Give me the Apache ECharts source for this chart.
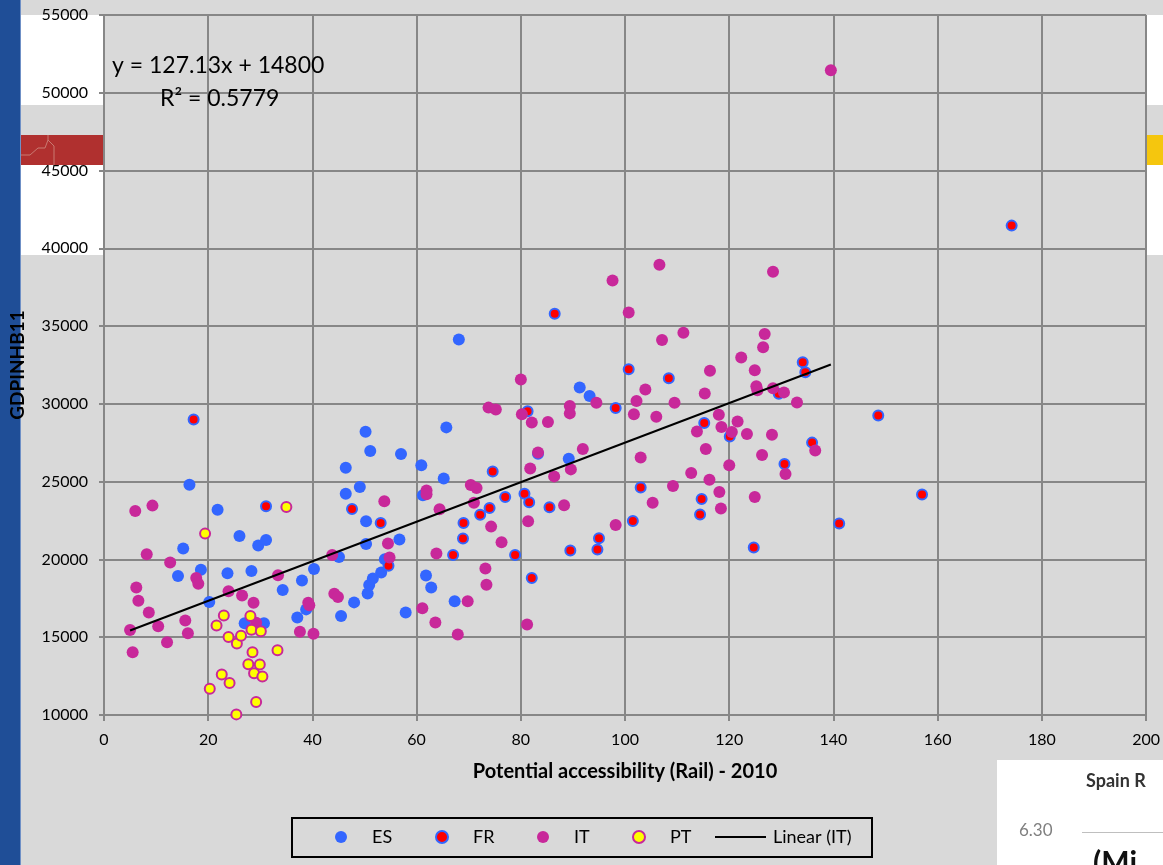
<!DOCTYPE html>
<html>
<head>
<meta charset="utf-8">
<script src="https://cdn.jsdelivr.net/npm/echarts@6/dist/echarts.min.js"></script>
<style>
html,body{margin:0;padding:0;background:#d9d9d9;}
#chart{width:1163px;height:865px;}
</style>
</head>
<body>
<div id="chart"></div>
<script>
// ---- Data (x = Potential accessibility (Rail) 2010, y = GDPINHB11) ----
const esData = [
  [14.2,18940],[15.2,20700],[16.4,24800],[18.6,19330],[20.2,17270],[21.8,23200],[23.7,19120],
  [26.0,21500],[27.0,15900],[28.3,19260],[29.6,20900],[30.7,15900],[31.1,21250],[34.3,18030],
  [37.1,16270],[38.0,18650],[38.8,16790],[40.3,19390],[45.1,20160],[45.5,16360],[46.4,24230],
  [46.4,25900],[48.0,17240],[49.1,24660],[50.2,28210],[50.3,21000],[50.3,22450],[50.6,17810],
  [50.9,18350],[51.1,26970],[51.6,18780],[53.2,19160],[53.9,20020],[56.7,21280],[57.0,26780],
  [57.9,16590],[60.9,26050],[61.2,24120],[61.8,18970],[62.8,18200],[65.2,25200],[65.7,28490],
  [67.3,17320],[68.1,34140],[83.3,26800],[89.2,26480],[91.3,31060],[93.2,30500]
];
const frData = [
  [17.2,29000],[31.1,23420],[47.6,23250],[53.1,22350],[54.6,19590],[67.0,20290],[68.9,21340],
  [69.0,22350],[72.2,22880],[74.0,23310],[74.6,25660],[77.0,24020],[78.9,20290],[80.7,24230],
  [81.3,29520],[81.6,23670],[82.1,18800],[85.5,23360],[86.5,35790],[89.5,20570],[94.7,20640],
  [95.0,21360],[98.2,29730],[100.7,32230],[101.5,22470],[103.0,24620],[108.4,31650],[114.4,22890],
  [114.7,23880],[115.2,28770],[120.1,27910],[124.7,20770],[129.5,30650],[130.6,26130],[134.1,32680],
  [134.6,32040],[135.9,27510],[141.1,22310],[148.6,29260],[157.0,24170],[174.2,41460]
];
const itData = [
  [5.0,15460],[5.5,14030],[6.0,23120],[6.2,18200],[6.6,17340],[8.2,20340],[8.6,16590],[9.3,23460],
  [10.4,15710],[12.1,14670],[12.7,19800],[15.6,16080],[16.1,15260],[17.7,18800],[18.1,18430],
  [23.9,17960],[26.5,17680],[28.7,17210],[29.2,15930],[33.4,18990],[37.6,15350],[39.2,17210],
  [39.4,17060],[40.2,15220],[43.8,20280],[44.2,17790],[44.9,17590],[53.8,23740],[54.5,21020],
  [54.8,20120],[61.1,16870],[61.9,24440],[61.9,24190],[63.6,15950],[63.8,20380],[64.4,23230],
  [67.9,15180],[69.8,17320],[70.4,24790],[71.0,23650],[71.5,24590],[73.2,19420],[73.4,18370],
  [73.8,29760],[74.3,22110],[75.2,29640],[76.3,21100],[80.0,31570],[80.2,29340],[81.2,15820],
  [81.4,22450],[81.8,25840],[82.1,28810],[83.3,26870],[85.2,28840],[86.4,25340],[88.3,23480],
  [89.4,29860],[89.4,29390],[89.6,25790],[91.9,27100],[94.5,30070],[97.6,37930],[98.2,22220],
  [100.7,35870],[101.7,29340],[102.2,30180],[103.0,26560],[103.9,30930],[105.3,23650],[106.0,29180],
  [106.6,38950],[107.1,34100],[109.2,24720],[109.5,30070],[111.2,34570],[112.7,25560],[113.8,28230],
  [115.3,30670],[115.5,27100],[116.2,25130],[116.3,32130],[118.0,29300],[118.1,24340],[118.4,23270],
  [118.5,28510],[120.0,26050],[120.5,28190],[121.6,28870],[122.3,32980],[123.4,28060],[124.9,32170],
  [124.9,24010],[125.2,31140],[125.4,30870],[126.3,26710],[126.5,33640],[126.8,34500],[128.2,28020],
  [128.4,38490],[128.4,31010],[130.5,30740],[130.8,25500],[133.0,30090],[136.5,27010],[139.5,51450]
];
const ptData = [
  [19.4,21660],[20.3,11690],[21.6,15760],[22.6,12610],[23.0,16400],[23.9,15010],[24.1,12050],
  [25.4,10040],[25.5,14600],[26.3,15090],[27.7,13270],[28.1,16360],[28.3,15480],[28.5,14030],
  [28.8,12680],[29.2,10830],[29.9,13250],[30.1,15390],[30.4,12480],[33.3,14170],[35.0,23370]
];
// Linear trend (IT): y = 127.13x + 14800, drawn over IT x-range
const trendSlope = 127.13;
const trendIntercept = 14800;
const trendRange = [5.0, 139.5];
const trendData = trendRange.map(x => [x, trendSlope * x + trendIntercept]);

const seriesNames = ['ES', 'FR', 'IT', 'PT', 'Linear (IT)'];
const equationText = 'y = 127.13x + 14800';
const r2Text = 'R² = 0.5779';

const FONT = 'Lato, "Open Sans", sans-serif';
const BLUE = '#3366ff', RED = '#ff0000', MAG = '#c8289a', YEL = '#ffff00';
const CLEAR = 'rgba(0,0,0,0)';

// one legend component per entry so the spacing follows the reference
const legendLefts = [335, 435, 537, 632, 714];
const legends = seriesNames.map((name, i) => ({
  data: i === 4 ? [{name, itemStyle: {color: CLEAR, borderColor: CLEAR, borderWidth: 0}}] : [name],
  left: legendLefts[i], top: 828,
  padding: 0,
  itemWidth: i === 4 ? 51 : 12, itemHeight: 12,
  itemGap: 0,
  textStyle: {fontSize: 18, color: '#000', fontFamily: FONT, padding: i === 4 ? [0,0,0,2] : [0,0,0,20]}
}));

const chart = echarts.init(document.getElementById('chart'), null, {renderer: 'canvas'});
chart.setOption({
  backgroundColor: '#d9d9d9',
  animation: false,
  textStyle: {fontFamily: FONT},
  graphic: [
    {type:'rect', z:-10, shape:{x:0,y:0,width:20,height:865}, style:{fill:'#1f4e97'}},
    {type:'rect', z:-10, shape:{x:20,y:0,width:1,height:865}, style:{fill:'#6f90c6'}},
    {type:'rect', z:-10, shape:{x:21,y:15,width:1142,height:90}, style:{fill:'#ffffff'}},
    {type:'rect', z:-10, shape:{x:21,y:135,width:90,height:30,r:[0,6,0,0]}, style:{fill:'#b0302f'}},
    {type:'polyline', z:-9, shape:{points:[[21,155],[30,155],[38,148],[45,148],[48,140],[48,135]]}, style:{stroke:'#c97a72',lineWidth:1,fill:null}},
    {type:'polyline', z:-9, shape:{points:[[48,140],[54,146],[54,165]]}, style:{stroke:'#c97a72',lineWidth:1,fill:null}},
    {type:'rect', z:-10, shape:{x:1100,y:135,width:63,height:30}, style:{fill:'#f5c60e'}},
    {type:'rect', z:-10, shape:{x:21,y:165,width:1142,height:90}, style:{fill:'#ffffff'}},
    {type:'rect', z:-10, shape:{x:997,y:760,width:166,height:105}, style:{fill:'#ffffff'}},
    {type:'text', z:5, left:1086, top:772, style:{text:'Spain R', fill:'#333333', font:'bold 18px ' + FONT}},
    {type:'text', z:5, left:1019, top:822, style:{text:'6.30', fill:'#7f7f7f', font:'17px ' + FONT}},
    {type:'rect', z:5, shape:{x:1082,y:832,width:81,height:1}, style:{fill:'#bfbfbf'}},
    {type:'text', z:5, left:1093, top:848, style:{text:'(Mi', fill:'#111111', font:'bold 30px ' + FONT}},
    {type:'text', z:20, left:112, top:54, style:{text:equationText, fill:'#000', font:'23px ' + FONT}},
    {type:'text', z:20, left:160, top:87, style:{text:r2Text, fill:'#000', font:'23px ' + FONT}},
    {type:'rect', z:20, shape:{x:292,y:818,width:580,height:39}, style:{fill:null, stroke:'#000', lineWidth:2}}
  ],
  grid: {left:104, right:15, top:15, bottom:150, show:true, backgroundColor:'#d9d9d9', borderWidth:0},
  legend: legends,
  xAxis: {
    type: 'value', min: 0, max: 200, interval: 20,
    name: 'Potential accessibility (Rail) - 2010',
    nameLocation: 'middle', nameGap: 47,
    nameTextStyle: {fontSize: 20, fontWeight: 'bold', color: '#000'},
    axisLine: {show: true, lineStyle: {color: '#878787', width: 2}},
    axisTick: {show: true, length: 6, lineStyle: {color: '#878787', width: 2}},
    axisLabel: {fontSize: 16, color: '#000', margin: 17},
    splitLine: {show: true, lineStyle: {color: '#878787', width: 2}}
  },
  yAxis: {
    type: 'value', min: 10000, max: 55000, interval: 5000,
    name: 'GDPINHB11',
    nameLocation: 'middle', nameGap: 77, nameRotate: 90,
    nameTextStyle: {fontSize: 19, fontWeight: 'bold', color: '#000'},
    axisLine: {show: true, lineStyle: {color: '#878787', width: 2}},
    axisTick: {show: true, length: 5, lineStyle: {color: '#878787', width: 2}},
    axisLabel: {fontSize: 16, color: '#000', margin: 16, formatter: v => String(v)},
    splitLine: {show: true, lineStyle: {color: '#878787', width: 2}}
  },
  series: [
    {name:'ES', type:'scatter', data: esData, symbol:'circle', symbolSize: 12, z: 2,
     itemStyle:{color: BLUE, opacity: 1}},
    {name:'FR', type:'scatter', data: frData, symbol:'circle', symbolSize: 10, z: 3,
     itemStyle:{color: RED, borderColor: BLUE, borderWidth: 2, opacity: 1}},
    {name:'IT', type:'scatter', data: itData, symbol:'circle', symbolSize: 12, z: 4,
     itemStyle:{color: MAG, opacity: 1}},
    {name:'PT', type:'scatter', data: ptData, symbol:'circle', symbolSize: 10, z: 5,
     itemStyle:{color: YEL, borderColor: MAG, borderWidth: 2, opacity: 1}},
    {name:'Linear (IT)', type:'line', data: trendData, symbol:'none', z: 6,
     lineStyle:{color:'#000', width: 2}, itemStyle:{color:'#000'}}
  ]
});
</script>
</body>
</html>
